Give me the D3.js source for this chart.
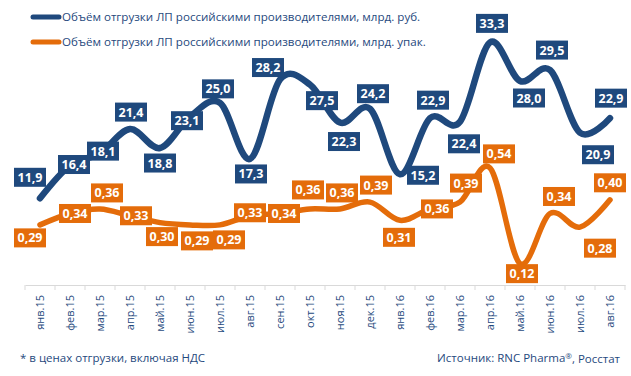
<!DOCTYPE html>
<html>
<head>
<meta charset="utf-8">
<script src="https://cdn.jsdelivr.net/npm/d3@7/dist/d3.min.js"></script>
<style>
  html, body { margin: 0; padding: 0; background: #fff; }
  svg { display: block; }
  text { font-family: "Open Sans", "DejaVu Sans", sans-serif; }
</style>
</head>
<body>
<svg id="chart" width="631" height="376"></svg>
<script>
// ---- data ----
const categories = ["янв.15","фев.15","мар.15","апр.15","май.15","июн.15","июл.15","авг.15","сен.15","окт.15","ноя.15","дек.15",
                    "янв.16","фев.16","мар.16","апр.16","май.16","июн.16","июл.16","авг.16"];
const rubValues  = [11.9, 16.4, 18.1, 21.4, 18.8, 23.1, 25.0, 17.3, 28.2, 27.5, 22.3, 24.2, 15.2, 22.9, 22.4, 33.3, 28.0, 29.5, 20.9, 22.9];
const packValues = [0.29, 0.34, 0.36, 0.33, 0.30, 0.29, 0.29, 0.33, 0.34, 0.36, 0.36, 0.39, 0.31, 0.36, 0.39, 0.54, 0.12, 0.34, 0.28, 0.40];
const seriesNames = ["Объём отгрузки ЛП российскими производителями, млрд. руб.",
                     "Объём отгрузки ЛП российскими производителями, млрд. упак."];
const footnote = "* в ценах отгрузки, включая НДС";
const sourceParts = ["Источник: RNC Pharma", "®", ", Росстат"];

// ---- label placement (layout, px offsets from each point) ----
const rubLabelOffsets = [[-10,-21],[4,-1],[3,-2],[1,-17],[0,15],[-3,4],[-2,-14],[1,15],[-12,-12],[12,16],
                         [4,19],[3,-15],[23,1],[3,-18],[4,22],[2,-19],[9,17],[2,-20],[18,22],[1,-20]];
const packLabelOffsets = [[-10,13],[5,0],[7,-16],[6,0],[2,14],[7,16],[9,15],[0,-3],[4,0],[-2,-19],
                          [2,-16],[6,-17],[-1,17],[7,0],[6,-19],[9,-14],[2,10],[9,-17],[20,21],[0,-17]];

const BLUE = "#1F497D", ORANGE = "#E46C0A", TEXT = "#1F497D";

const svg = d3.select("#chart");

const x = d3.scaleBand().domain(categories).range([25, 625]);
const cx = c => x(c) + x.bandwidth() / 2;
const yRub = d3.scaleLinear().domain([0, 35]).range([285, 30]);
const yPack = d3.scaleLinear().domain([0, 0.6]).range([291, 154.2]);

// ---- x axis ----
const axis = d3.axisBottom(x).tickSize(0).tickSizeOuter(0);
const gx = svg.append("g").attr("transform", "translate(0,285)").call(axis);
gx.select(".domain").attr("stroke", "#D9D9D9").attr("stroke-width", 1);
gx.selectAll(".tick text")
  .attr("transform", "rotate(-90)")
  .attr("text-anchor", "end")
  .attr("x", -10)
  .attr("y", 0)
  .attr("dy", "0.35em")
  .attr("fill", TEXT)
  .style("font-size", "11px")
  .style("font-family", '"Open Sans", sans-serif');
// boundary tick marks
const bounds = categories.map(c => x(c)).concat([x.range()[1]]);
svg.append("g").selectAll("line").data(bounds).join("line")
  .attr("x1", d => d).attr("x2", d => d)
  .attr("y1", 285).attr("y2", 290)
  .attr("stroke", "#D9D9D9").attr("stroke-width", 1);

// ---- lines ----
const curve = d3.curveCardinal.tension(0);
const lineRub = d3.line().x((d, i) => cx(categories[i])).y(d => yRub(d)).curve(curve);
const linePack = d3.line().x((d, i) => cx(categories[i])).y(d => yPack(d)).curve(curve);

svg.append("path").datum(packValues).attr("d", linePack)
  .attr("fill", "none").attr("stroke", ORANGE).attr("stroke-width", 5.5)
  .attr("stroke-linecap", "round").attr("stroke-linejoin", "round");
svg.append("path").datum(rubValues).attr("d", lineRub)
  .attr("fill", "none").attr("stroke", BLUE).attr("stroke-width", 6.5)
  .attr("stroke-linecap", "round").attr("stroke-linejoin", "round");

// ---- data labels ----
const fmt = (v, d) => v.toFixed(d).replace(".", ",");
function drawLabels(values, yScale, offsets, color, decimals) {
  const g = svg.append("g");
  const lab = g.selectAll("g").data(values).join("g")
    .attr("transform", (d, i) => `translate(${cx(categories[i]) + offsets[i][0]},${yScale(d) + offsets[i][1]})`);
  lab.append("rect").attr("x", -16).attr("y", -9.5).attr("width", 32).attr("height", 19).attr("fill", color);
  lab.append("text").attr("text-anchor", "middle").attr("dy", "0.36em")
    .attr("fill", "#fff").style("font-weight", "700").style("font-size", "12.5px")
    .text(d => fmt(d, decimals));
}
drawLabels(packValues, yPack, packLabelOffsets, ORANGE, 2);
drawLabels(rubValues, yRub, rubLabelOffsets, BLUE, 1);

// ---- legend ----
const legend = svg.append("g");
[[BLUE, 17], [ORANGE, 42]].forEach(([col, yy], i) => {
  legend.append("line").attr("x1", 33).attr("x2", 59).attr("y1", yy).attr("y2", yy)
    .attr("stroke", col).attr("stroke-width", 5).attr("stroke-linecap", "round");
  legend.append("text").attr("x", 62).attr("y", yy).attr("dy", "0.35em")
    .attr("fill", TEXT).style("font-size", "11.6px").text(seriesNames[i]);
});

// ---- footer ----
svg.append("text").attr("x", 20).attr("y", 358).attr("dy", "0.35em")
  .attr("fill", TEXT).style("font-size", "11.5px").text(footnote);
const src = svg.append("text").attr("x", 620).attr("y", 358).attr("dy", "0.35em").attr("text-anchor", "end")
  .attr("fill", TEXT).style("font-size", "11.5px");
src.append("tspan").text(sourceParts[0]);
src.append("tspan").attr("dy", "-0.35em").style("font-size", "8px").text(sourceParts[1]);
src.append("tspan").attr("dy", "0.35em").text(sourceParts[2]);
</script>
</body>
</html>
